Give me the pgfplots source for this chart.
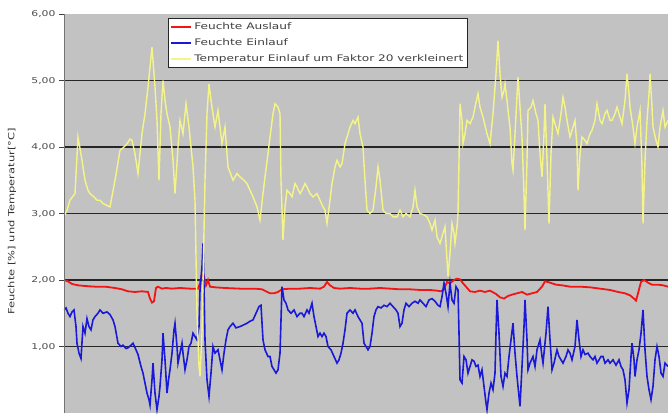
\documentclass[border=0pt]{standalone}
\usepackage{fontspec}
\usepackage{pgfplots}
\pgfplotsset{compat=1.18}
\newfontfamily\chartfont{DejaVu Sans}[FakeStretch=1.35]
\definecolor{bggray}{RGB}{194,194,194}
\definecolor{redline}{RGB}{245,20,20}
\definecolor{blueline}{RGB}{25,25,215}
\definecolor{yellowline}{RGB}{245,245,135}
\begin{document}
\begin{tikzpicture}
\useasboundingbox (-64pt,0pt) rectangle (604pt,413pt);
\begin{axis}[
  scale only axis, width=604pt, height=399pt,
  xmin=64, xmax=668, ymin=0, ymax=6,
  xtick=\empty,
  ytick={1,2,3,4,5},
  extra y ticks={6},
  extra y tick style={grid=none},
  ymajorgrids,
  major grid style={draw=black!85, line width=1.5pt},
  axis background/.style={fill=bggray},
  axis line style={draw=none},
  tick align=outside, major tick length=5pt,
  tick style={draw=black!75, line width=0.8pt},
  /pgf/number format/assume math mode=true,
  yticklabel style={font=\chartfont\fontsize{8}{9}\selectfont, text=black!70,
    /pgf/number format/.cd, fixed, fixed zerofill, precision=2, use comma},
  ylabel={Feuchte [\%] und Temperatur[°C]},
  every axis y label/.style={at={(rel axis cs:-0.086,0.48)}, rotate=90, anchor=center,
    font=\chartfont\fontsize{8.5}{10}\selectfont, text=black!80},
  legend style={at={(rel axis cs:0.172,0.99)}, anchor=north west,
    draw=black!85, line width=0.8pt, fill=white,
    font=\chartfont\fontsize{9}{10}\selectfont, text=black!75,
    row sep=3.5pt, inner xsep=2pt, inner ysep=2.5pt},
  legend cell align=left,
  legend image code/.code={\draw[#1, line width=2pt] (0pt,0pt) -- (20pt,0pt);},
  extra description/.code={\draw[black!55, line width=0.8pt] (rel axis cs:0,0) -- (rel axis cs:0,1);},
]
\addplot[redline, line width=1.8pt] coordinates {
(64,2.0)(68,1.98)(72,1.94)(78,1.92)(85,1.91)(95,1.9)(105,1.9)(115,1.88)(122,1.86)(128,1.83)
(135,1.82)(142,1.83)(148,1.82)(150,1.72)(152,1.66)(154,1.68)(156,1.88)(158,1.9)(162,1.87)(166,1.88)
(172,1.87)(180,1.88)(190,1.87)(198,1.87)(200,1.95)(202,2.1)(204,2.05)(206,1.92)(208,2.0)(210,1.9)
(215,1.89)(225,1.88)(240,1.87)(255,1.87)(262,1.86)(266,1.83)(270,1.8)(274,1.8)(278,1.82)(282,1.86)
(290,1.87)(300,1.87)(310,1.88)(320,1.87)(324,1.9)(327,1.97)(330,1.92)(334,1.88)(340,1.87)(350,1.88)
(360,1.87)(370,1.87)(380,1.88)(390,1.87)(400,1.86)(410,1.86)(420,1.85)(430,1.85)(437,1.84)(441,1.83)
(444,1.86)(447,1.97)(450,1.95)(454,2.0)(457,2.02)(460,2.01)(463,1.95)(466,1.9)(470,1.83)(475,1.82)
(480,1.84)(485,1.82)(490,1.84)(496,1.79)(500,1.74)(504,1.72)(508,1.76)(512,1.78)(517,1.8)(522,1.82)
(527,1.78)(532,1.8)(537,1.82)(542,1.9)(545,1.98)(548,1.97)(552,1.95)(556,1.93)(562,1.92)(570,1.9)
(580,1.9)(590,1.89)(600,1.87)(610,1.85)(618,1.82)(625,1.8)(630,1.77)(634,1.72)(636,1.69)(638,1.8)
(641,1.97)(644,2.0)(648,1.96)(652,1.93)(658,1.93)(663,1.92)(668,1.9)
};
\addlegendentry{Feuchte Auslauf}
\addplot[blueline, line width=1.6pt] coordinates {
(64,1.55)(66,1.58)(68,1.5)(70,1.45)(72,1.52)(74,1.55)(76,1.3)(77,1.05)(79,0.9)(81,0.82)
(83,1.3)(85,1.2)(87,1.42)(89,1.3)(91,1.25)(93,1.4)(95,1.45)(98,1.5)(100,1.55)(103,1.5)
(107,1.52)(110,1.48)(113,1.4)(115,1.3)(118,1.05)(121,1.0)(123,1.02)(126,0.97)(128,0.98)(131,1.02)
(133,1.05)(136,0.95)(138,0.88)(141,0.7)(143,0.6)(145,0.45)(147,0.3)(149,0.2)(150,0.12)(152,0.5)
(153,0.75)(155,0.3)(157,0.05)(159,0.25)(160,0.4)(162,0.8)(163,1.2)(165,0.8)(167,0.3)(169,0.55)
(170,0.65)(172,0.9)(174,1.25)(175,1.35)(177,1.0)(178,0.75)(180,0.9)(182,1.05)(183,0.9)(185,0.65)
(187,0.8)(189,1.0)(191,1.05)(193,1.2)(195,1.15)(197,1.1)(199,1.3)(200,1.85)(202,2.2)(203,2.55)
(204,1.9)(205,1.1)(207,0.5)(209,0.25)(211,0.6)(213,1.0)(215,0.9)(218,0.95)(220,0.8)(222,0.65)
(224,0.9)(226,1.1)(228,1.25)(230,1.3)(233,1.35)(236,1.28)(240,1.3)(243,1.32)(247,1.35)(250,1.38)
(253,1.4)(256,1.5)(259,1.6)(261,1.62)(263,1.1)(265,0.95)(268,0.85)(270,0.85)(272,0.7)(274,0.65)
(276,0.6)(278,0.65)(280,0.9)(282,1.9)(284,1.7)(286,1.65)(288,1.55)(291,1.5)(294,1.55)(297,1.45)
(300,1.5)(302,1.5)(304,1.45)(307,1.55)(309,1.5)(312,1.65)(314,1.45)(316,1.3)(318,1.15)(320,1.2)
(322,1.15)(324,1.2)(326,1.15)(328,1.0)(331,0.95)(334,0.85)(337,0.75)(339,0.8)(341,0.9)(343,1.05)
(345,1.25)(347,1.5)(350,1.55)(353,1.5)(355,1.55)(358,1.45)(360,1.4)(362,1.35)(364,1.05)(366,1.0)
(368,0.95)(370,1.0)(372,1.2)(374,1.45)(376,1.55)(378,1.6)(381,1.58)(384,1.62)(387,1.6)(390,1.65)
(393,1.6)(396,1.55)(398,1.5)(400,1.3)(402,1.35)(404,1.55)(406,1.65)(409,1.6)(412,1.65)(415,1.68)
(418,1.65)(420,1.7)(423,1.65)(426,1.6)(429,1.7)(432,1.72)(435,1.68)(438,1.62)(440,1.6)(442,1.75)
(444,1.95)(446,1.8)(448,1.6)(450,1.95)(452,1.7)(454,1.65)(456,1.9)(458,1.85)(459,1.2)(460,0.5)
(462,0.45)(464,0.85)(466,0.8)(468,0.6)(470,0.7)(472,0.8)(474,0.78)(476,0.7)(478,0.72)(480,0.55)
(482,0.65)(484,0.4)(486,0.15)(487,0.05)(489,0.3)(491,0.45)(493,0.35)(495,0.6)(496,1.2)(497,1.7)
(499,1.2)(501,0.55)(503,0.4)(505,0.6)(507,0.55)(509,0.85)(511,1.1)(513,1.35)(515,0.9)(517,0.55)
(519,0.25)(520,0.1)(522,0.7)(524,1.3)(525,1.7)(527,1.1)(528,0.65)(530,0.75)(533,0.85)(535,0.7)
(537,0.95)(540,1.1)(542,0.85)(543,0.75)(546,1.2)(548,1.6)(550,1.1)(552,0.65)(554,0.75)(557,0.95)
(559,0.85)(561,0.8)(563,0.75)(566,0.85)(568,0.95)(570,0.9)(572,0.8)(575,1.0)(577,1.4)(579,1.1)
(581,0.85)(583,0.95)(585,0.88)(588,0.9)(590,0.85)(593,0.8)(595,0.85)(597,0.75)(599,0.8)(601,0.85)
(603,0.85)(605,0.75)(608,0.8)(610,0.75)(613,0.8)(616,0.72)(619,0.8)(621,0.7)(623,0.65)(625,0.5)
(627,0.15)(629,0.35)(631,0.85)(632,1.05)(634,0.8)(635,0.55)(637,0.8)(639,0.95)(641,1.2)(643,1.55)
(645,0.95)(647,0.55)(649,0.35)(651,0.2)(653,0.4)(655,0.8)(657,1.0)(659,0.85)(661,0.6)(663,0.55)
(665,0.75)(668,0.7)
};
\addlegendentry{Feuchte Einlauf}
\addplot[yellowline, line width=1.4pt] coordinates {
(64,2.95)(67,3.05)(70,3.2)(75,3.3)(78,4.15)(82,3.8)(85,3.5)(88,3.35)(90,3.3)(94,3.25)
(97,3.2)(100,3.2)(103,3.15)(107,3.12)(110,3.1)(115,3.5)(120,3.95)(124,4.0)(127,4.05)(130,4.12)
(132,4.1)(135,3.9)(138,3.6)(142,4.2)(145,4.5)(148,4.9)(150,5.2)(152,5.5)(155,4.9)(157,4.4)
(159,3.5)(161,4.5)(163,5.0)(165,4.7)(167,4.5)(170,4.3)(173,3.8)(175,3.3)(178,4.0)(180,4.4)
(183,4.2)(186,4.65)(189,4.3)(193,3.7)(195,3.2)(197,1.5)(199,0.7)(200,0.55)(202,1.2)(205,3.5)
(207,4.5)(209,4.95)(211,4.7)(215,4.3)(218,4.55)(222,4.05)(225,4.3)(228,3.7)(233,3.5)(237,3.6)
(240,3.55)(244,3.5)(247,3.45)(250,3.35)(253,3.25)(257,3.1)(260,2.9)(263,3.3)(265,3.55)(268,3.9)
(270,4.15)(273,4.5)(275,4.65)(278,4.6)(280,4.5)(281,3.5)(283,2.6)(285,3.1)(287,3.35)(290,3.3)
(292,3.25)(295,3.45)(297,3.4)(300,3.3)(302,3.35)(305,3.45)(307,3.4)(310,3.3)(313,3.25)(317,3.3)
(320,3.2)(323,3.1)(325,3.05)(327,2.85)(330,3.2)(332,3.45)(335,3.7)(337,3.8)(340,3.7)(342,3.75)
(345,4.05)(348,4.2)(350,4.3)(353,4.4)(355,4.35)(358,4.45)(360,4.2)(363,4.0)(365,3.5)(367,3.05)
(370,3.0)(373,3.05)(376,3.4)(378,3.7)(380,3.5)(383,3.05)(386,3.0)(390,3.0)(393,2.95)(397,2.95)
(400,3.05)(403,2.95)(406,3.0)(410,2.95)(413,3.1)(415,3.35)(417,3.1)(420,3.0)(424,2.98)(427,2.95)
(430,2.85)(432,2.75)(435,2.9)(437,2.65)(440,2.55)(443,2.7)(445,2.8)(447,2.3)(448,2.05)(450,2.4)
(452,2.85)(454,2.7)(455,2.55)(457,2.8)(458,3.0)(459,3.8)(460,4.65)(462,4.4)(463,4.05)(465,4.2)
(467,4.4)(470,4.35)(473,4.45)(475,4.6)(478,4.8)(480,4.6)(483,4.45)(487,4.2)(490,4.05)(493,4.5)
(496,5.1)(498,5.6)(500,5.1)(502,4.75)(504,4.85)(505,4.95)(507,4.7)(508,4.55)(510,4.3)(512,3.75)
(513,3.65)(515,4.2)(518,5.05)(520,4.6)(522,4.15)(524,3.3)(525,2.75)(527,3.8)(528,4.55)(531,4.6)
(533,4.7)(536,4.5)(538,4.4)(540,3.9)(542,3.55)(544,4.2)(545,4.65)(547,3.8)(549,2.85)(551,3.9)
(553,4.45)(556,4.3)(558,4.2)(561,4.5)(563,4.75)(565,4.6)(567,4.4)(570,4.15)(573,4.3)(575,4.4)
(577,4.0)(578,3.35)(580,3.9)(582,4.15)(585,4.1)(587,4.05)(590,4.2)(592,4.25)(595,4.4)(597,4.65)
(600,4.4)(602,4.35)(605,4.5)(607,4.55)(610,4.4)(612,4.4)(615,4.5)(617,4.6)(620,4.45)(622,4.35)
(625,4.7)(627,5.1)(629,4.8)(630,4.6)(633,4.3)(635,4.05)(637,4.3)(640,4.55)(642,3.7)(643,2.85)
(645,3.8)(647,4.4)(649,4.8)(650,5.1)(652,4.6)(653,4.3)(656,4.1)(658,4.0)(660,4.3)(663,4.55)
(665,4.3)(668,4.4)
};
\addlegendentry{Temperatur Einlauf um Faktor 20 verkleinert}
\end{axis}
\end{tikzpicture}
\end{document}
